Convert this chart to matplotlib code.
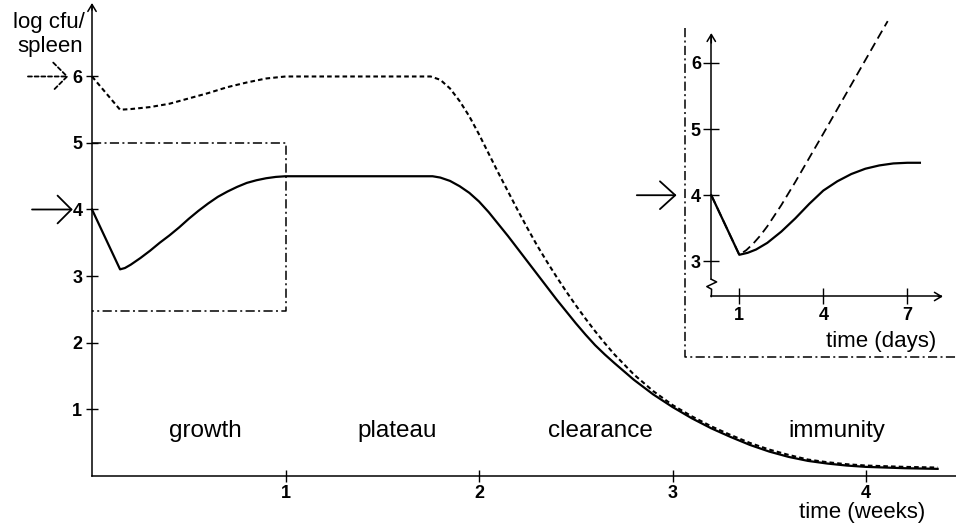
import matplotlib
matplotlib.use("Agg")
import matplotlib.pyplot as plt

plt.rcParams['font.family'] = ['Liberation Sans', 'DejaVu Sans']

# ---------------- data ----------------
# main panel: time in weeks, log cfu / spleen (low inoculum, solid)
low_weeks = [0, 0.145, 0.17, 0.20, 0.25, 0.30, 0.35, 0.40, 0.45, 0.50, 0.55, 0.60, 0.65,
             0.70, 0.75, 0.80, 0.85, 0.90, 0.95, 1.00,
             1.76, 1.80, 1.85, 1.90, 1.95, 2.00, 2.05, 2.10, 2.15, 2.20, 2.25, 2.30, 2.35,
             2.40, 2.45, 2.50, 2.55, 2.60, 2.65, 2.70, 2.80, 2.90, 3.00, 3.10, 3.20, 3.30,
             3.40, 3.50, 3.60, 3.70, 3.80, 3.90, 4.00, 4.20, 4.37]
low_log = [4.0, 3.10, 3.12, 3.17, 3.27, 3.38, 3.50, 3.61, 3.73, 3.86, 3.98, 4.09, 4.19,
           4.27, 4.34, 4.40, 4.44, 4.47, 4.49, 4.50,
           4.50, 4.48, 4.43, 4.35, 4.25, 4.12, 3.96, 3.78, 3.60, 3.41, 3.22, 3.03, 2.84,
           2.65, 2.47, 2.29, 2.12, 1.96, 1.82, 1.69, 1.44, 1.22, 1.03, 0.86, 0.71, 0.58,
           0.46, 0.36, 0.28, 0.22, 0.18, 0.15, 0.13, 0.11, 0.10]

# high inoculum, dotted
high_weeks = [0, 0.145, 0.20, 0.30, 0.40, 0.50, 0.60, 0.70, 0.80, 0.90, 1.00,
              1.75, 1.80, 1.85, 1.90, 1.95, 2.00, 2.05, 2.10, 2.15, 2.20, 2.25, 2.30,
              2.35, 2.40, 2.45, 2.50, 2.55, 2.60, 2.65, 2.70, 2.80, 2.90, 3.00, 3.10,
              3.20, 3.30, 3.40, 3.50, 3.60, 3.70, 3.80, 3.90, 4.00, 4.20, 4.37]
high_log = [6.0, 5.50, 5.51, 5.54, 5.59, 5.67, 5.75, 5.84, 5.91, 5.97, 6.00,
            6.00, 5.95, 5.82, 5.63, 5.40, 5.13, 4.84, 4.55, 4.27, 3.99, 3.72, 3.46,
            3.22, 2.99, 2.77, 2.56, 2.36, 2.17, 1.99, 1.82, 1.52, 1.27, 1.06, 0.89,
            0.74, 0.61, 0.49, 0.39, 0.31, 0.24, 0.20, 0.17, 0.15, 0.13, 0.12]

# inset: time in days
inset_days = [0, 1, 1.3, 1.6, 2.0, 2.5, 3.0, 3.5, 4.0, 4.5, 5.0, 5.5, 6.0, 6.5, 7.0, 7.45]
inset_log = [4.0, 3.10, 3.13, 3.18, 3.28, 3.45, 3.65, 3.87, 4.07, 4.21, 4.32, 4.40, 4.45,
             4.48, 4.49, 4.49]

inset_days_dashed = [0, 1, 1.25, 1.5, 1.75, 2.0, 2.5, 3.0, 4.0, 5.0, 6.0, 6.3]
inset_log_dashed = [4.0, 3.10, 3.17, 3.27, 3.39, 3.53, 3.85, 4.20, 4.93, 5.67, 6.41, 6.63]

main_xticks = [1, 2, 3, 4]
main_yticks = [1, 2, 3, 4, 5, 6]
inset_xticks = [1, 4, 7]
inset_yticks = [3, 4, 5, 6]

phase_labels = ['growth', 'plateau', 'clearance', 'immunity']
phase_x = [0.584, 1.576, 2.625, 3.848]

box_weeks = [0, 1]
box_log = [2.47, 5.0]

dose_low = 4
dose_high = 6

# ---------------- styles ----------------
DOT = (0, (2.2, 1.5))
DASHDOT = (0, (6, 2.2, 1.3, 2.2))
DASH = (0, (5, 2.8))
AX_LW = 1.1
TICK_FS = 13

fig = plt.figure(figsize=(9.56, 5.27), dpi=100)

# ---------------- main axes ----------------
ax = fig.add_axes([0, 0, 1, 1])
ax.patch.set_visible(False)
ax.set_xlim(-0.4755, 4.465)
ax.set_ylim(-0.774, 7.150)
for s in ['top', 'right']:
    ax.spines[s].set_visible(False)
ax.spines['left'].set_position(('data', 0))
ax.spines['bottom'].set_position(('data', 0))
ax.spines['left'].set_bounds(0, 7.08)
ax.spines['bottom'].set_bounds(0, 4.465)
for s in ['left', 'bottom']:
    ax.spines[s].set_linewidth(AX_LW)
ax.set_xticks(main_xticks)
ax.set_yticks(main_yticks)
ax.tick_params(direction='inout', length=9, width=1.0, labelsize=TICK_FS, pad=2.5)
for lab in ax.get_xticklabels() + ax.get_yticklabels():
    lab.set_fontweight('bold')

ax.annotate('', xy=(0, 7.105), xytext=(0, 7.0),
            arrowprops=dict(arrowstyle='->,head_length=0.5,head_width=0.3', lw=AX_LW,
                            color='black', shrinkA=0, shrinkB=0, mutation_scale=10),
            annotation_clip=False)

ax.plot(low_weeks, low_log, color='black', lw=1.6, solid_joinstyle='round', clip_on=False)
ax.plot(high_weeks, high_log, color='black', lw=1.5, ls=DOT, clip_on=False)

# dash-dot box marking the inset region
ax.plot([box_weeks[0], box_weeks[1], box_weeks[1], box_weeks[0]],
        [box_log[1], box_log[1], box_log[0], box_log[0]],
        color='black', lw=1.1, ls=DASHDOT)

for x, lab in zip(phase_x, phase_labels):
    ax.text(x, 0.58, lab, ha='center', va='baseline', fontsize=17.5)

ax.text(-0.036, 6.73, 'log cfu/', ha='right', va='baseline', fontsize=16)
ax.text(-0.045, 6.37, 'spleen', ha='right', va='baseline', fontsize=16)
ax.text(4.305, -0.64, 'time (weeks)', ha='right', va='baseline', fontsize=16)


def dose_arrow(axis, x0, x1, y, ls, hl=1.0, hw=1.0):
    axis.annotate('', xy=(x1, y), xytext=(x0, y),
                  arrowprops=dict(arrowstyle='->,head_length=%g,head_width=%g' % (hl, hw),
                                  lw=1.3, color='black', linestyle=ls,
                                  shrinkA=0, shrinkB=0, mutation_scale=10),
                  annotation_clip=False)


dose_arrow(ax, -0.31, -0.0997, dose_low, '-')
dose_arrow(ax, -0.331, -0.122, dose_high, DOT)

# ---------------- inset ----------------
W, H = 956, 527
axi = fig.add_axes([685 / W, (H - 357) / H, (956 - 685) / W, (357 - 28) / H])
axi.patch.set_visible(False)
axi.set_xlim(-0.939, 8.739)
axi.set_ylim(1.556, 6.526)
for s in ['top', 'right']:
    axi.spines[s].set_visible(False)
axi.spines['left'].set_position(('data', 0))
axi.spines['bottom'].set_position(('data', 2.47))
axi.spines['left'].set_bounds(2.73, 6.40)
axi.spines['bottom'].set_bounds(0, 8.2)
for s in ['left', 'bottom']:
    axi.spines[s].set_linewidth(AX_LW)
axi.set_xticks(inset_xticks)
axi.set_yticks(inset_yticks)
axi.tick_params(direction='inout', length=11, width=1.0, labelsize=TICK_FS, pad=2.0)
for lab in axi.get_xticklabels() + axi.get_yticklabels():
    lab.set_fontweight('bold')

# axis break zig-zag on the inset y axis
axi.plot([0, 0.19, -0.16, 0.01, 0], [2.73, 2.69, 2.62, 2.58, 2.47],
         color='black', lw=AX_LW, clip_on=False)
axi.annotate('', xy=(0, 6.45), xytext=(0, 6.3),
             arrowprops=dict(arrowstyle='->,head_length=0.5,head_width=0.3', lw=AX_LW,
                             color='black', shrinkA=0, shrinkB=0, mutation_scale=10),
             annotation_clip=False)
axi.annotate('', xy=(8.27, 2.47), xytext=(8.1, 2.47),
             arrowprops=dict(arrowstyle='->,head_length=0.5,head_width=0.3', lw=AX_LW,
                             color='black', shrinkA=0, shrinkB=0, mutation_scale=10),
             annotation_clip=False)

# dash-dot frame of the inset
axi.plot([0, 0, 1], [1, 0, 0], transform=axi.transAxes, color='black', lw=1.1,
         ls=DASHDOT, clip_on=False)

axi.plot(inset_days_dashed, inset_log_dashed, color='black', lw=1.3, ls=DASH, clip_on=False)
axi.plot(inset_days, inset_log, color='black', lw=1.6, solid_joinstyle='round', clip_on=False)

axi.text(8.05, 1.71, 'time (days)', ha='right', va='baseline', fontsize=16)
dose_arrow(axi, -2.66, -1.24, dose_low, '-', hl=1.1, hw=1.0)

fig.savefig('out.png', dpi=100)
